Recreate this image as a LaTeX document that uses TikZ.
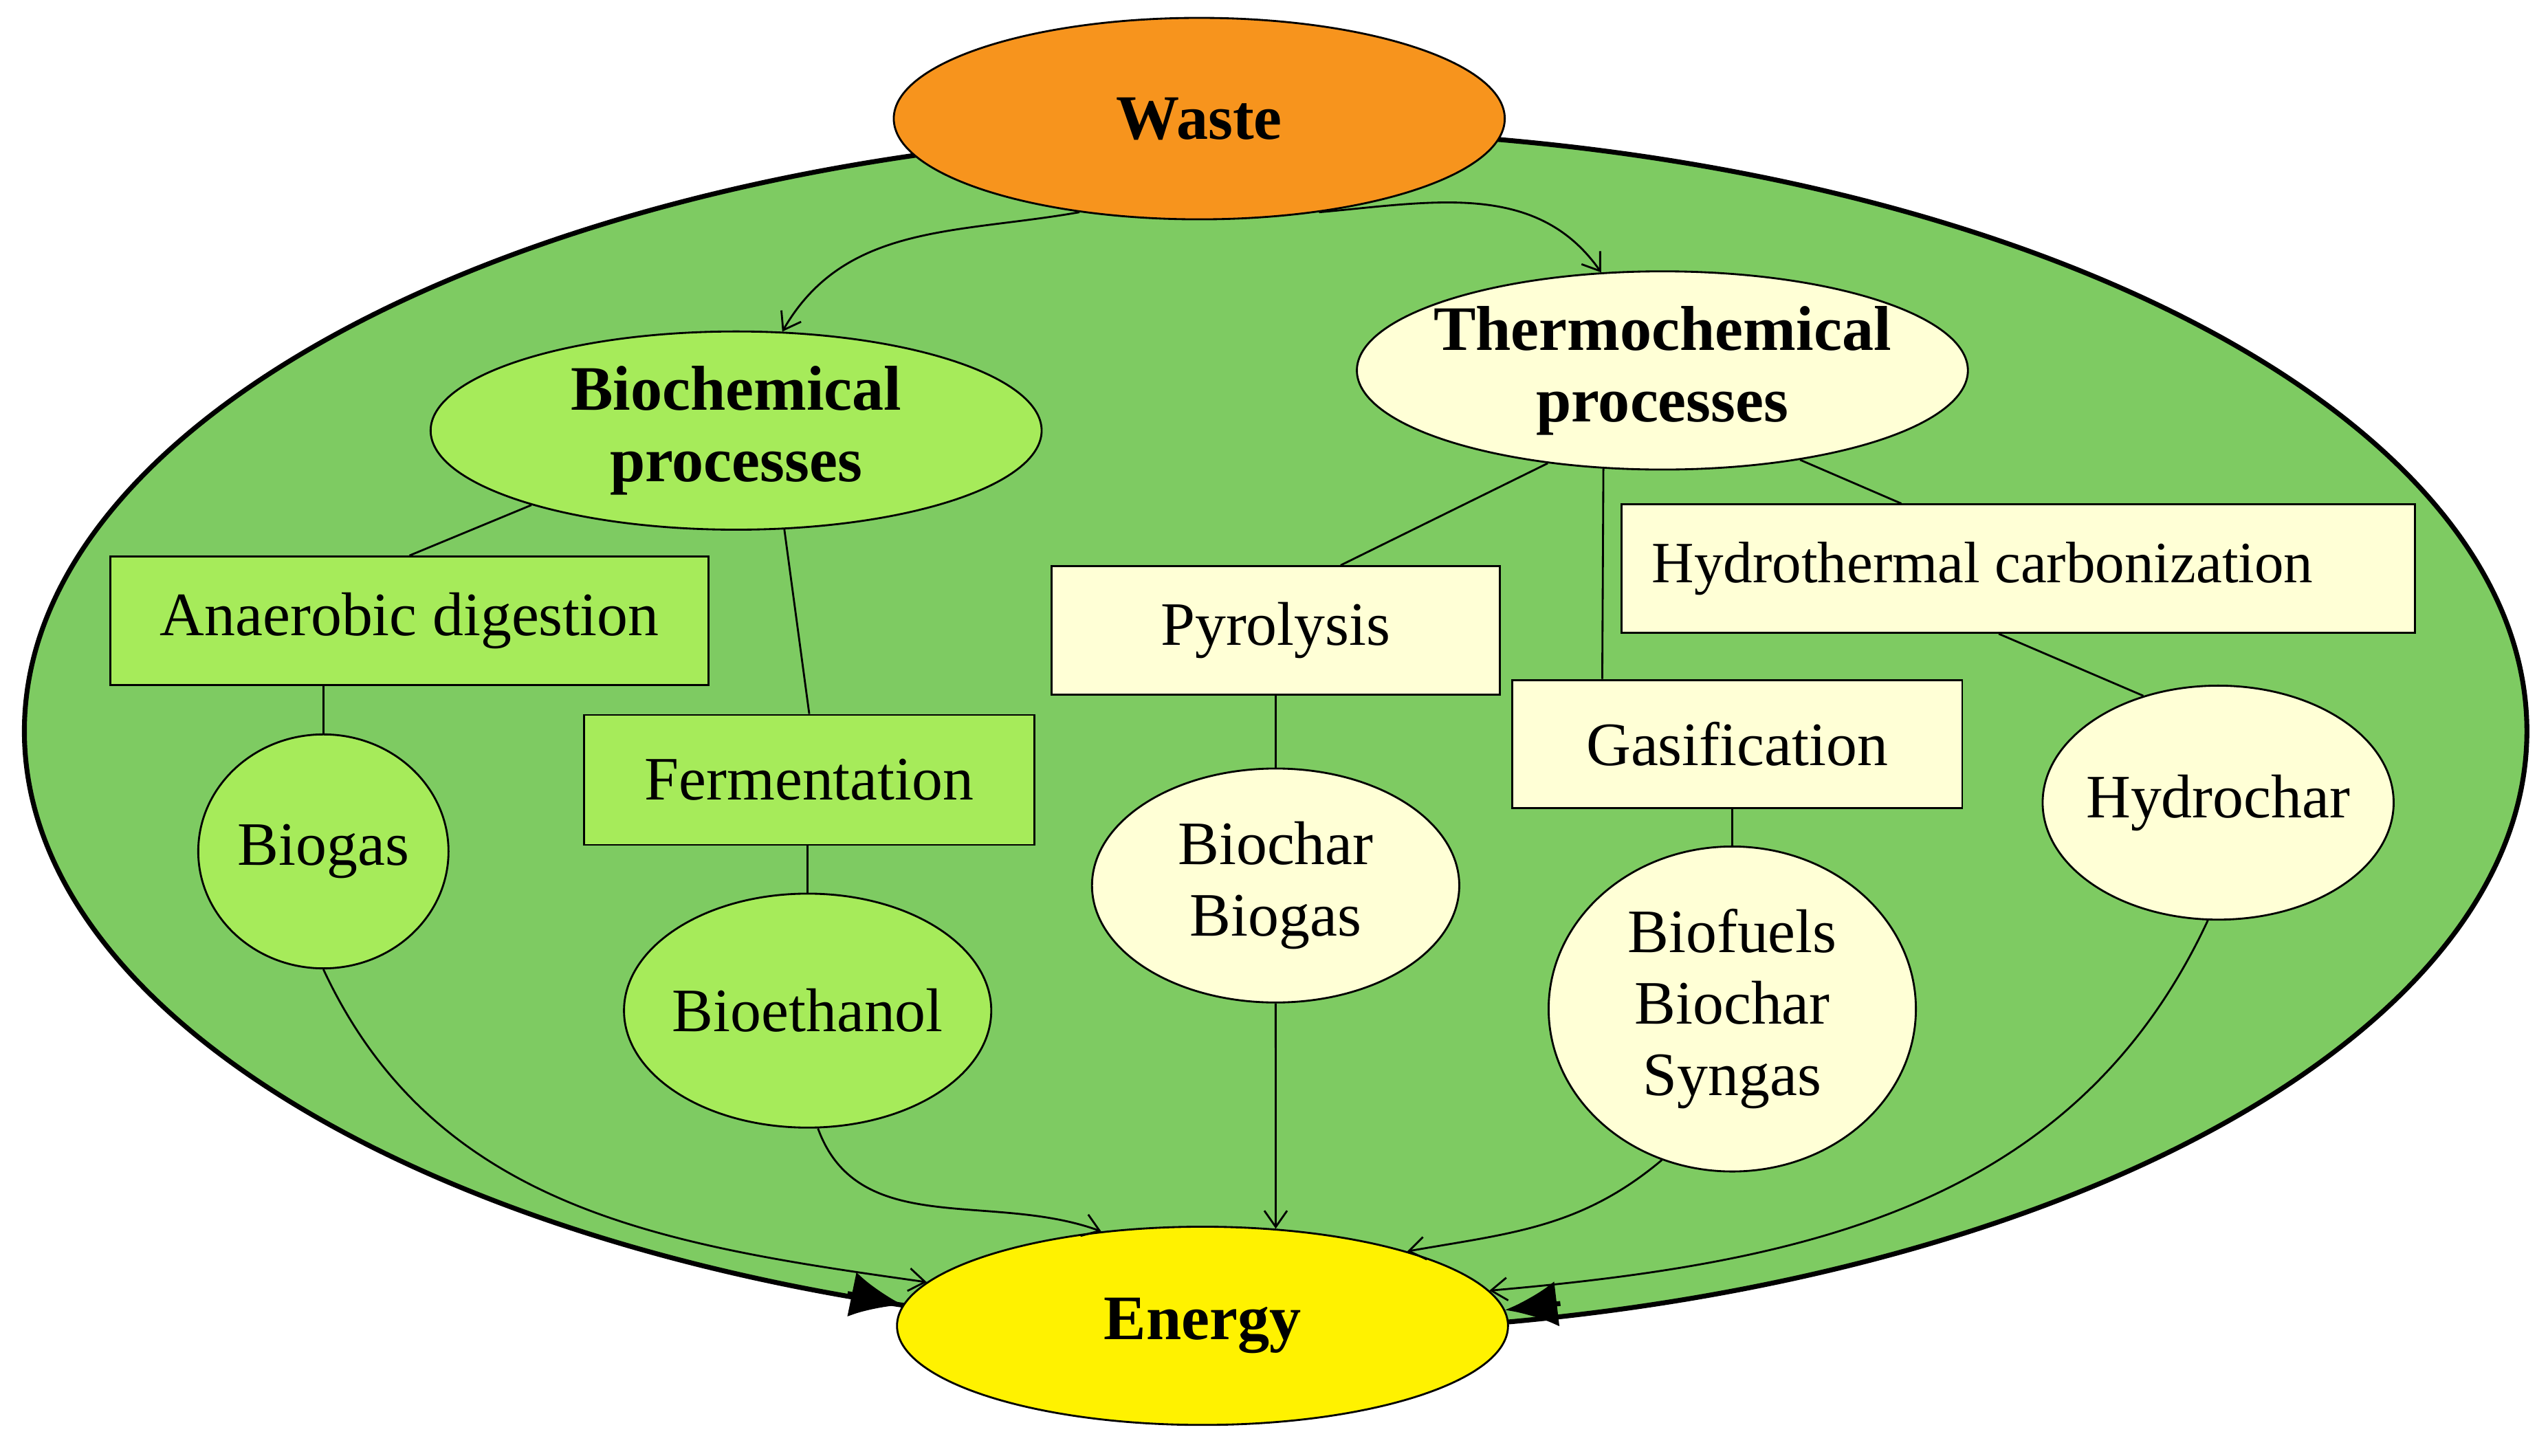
\documentclass[tikz,border=0pt]{standalone}
\usepackage{fontspec}
\setmainfont{Liberation Serif}
\usetikzlibrary{shapes.geometric,arrows.meta}
\definecolor{biggreen}{HTML}{7ECB62}
\definecolor{lgreen}{HTML}{A6EB5A}
\definecolor{cream}{HTML}{FFFFD6}
\definecolor{worange}{HTML}{F7941D}
\begin{document}
\begin{tikzpicture}[x=1pt,y=1pt,
  every node/.style={font=\fontsize{38}{44}\selectfont, align=center, inner sep=0pt},
  ell/.style={ellipse, draw=black, line width=1.2pt, inner xsep=-40pt},
  box/.style={rectangle, draw=black, line width=1.2pt},
  ln/.style={line width=1.2pt},
  arr/.style={line width=1.2pt,-{Straight Barb[length=10pt,width=14pt]}},
  bigarr/.style={line width=3pt,-{Latex[length=32pt,width=28pt]}},
  bf/.style={font=\fontsize{39}{44}\selectfont\bfseries}]
\useasboundingbox (0,0) rectangle (1568,-896);
\node[ell, line width=3pt, fill=biggreen, minimum width=1540, minimum height=740] (big) at (785,-450) {};
\node[ell, fill=worange, minimum width=376, minimum height=124, bf] (waste) at (738,-73) {Waste};
\node[ell, fill=yellow, minimum width=376, minimum height=122, bf] (en) at (740,-816) {Energy};
\node[ell, fill=lgreen, minimum width=376, minimum height=122, bf] (bio) at (453,-265) {Biochemical\\processes};
\node[ell, fill=cream, minimum width=376, minimum height=122, bf] (th) at (1023,-228) {Thermochemical\\processes};
\node[box, fill=lgreen, minimum width=368, minimum height=79] (ad) at (252,-382) {Anaerobic digestion};
\node[box, fill=lgreen, minimum width=277, minimum height=80] (fe) at (498,-480) {Fermentation};
\node[ell, fill=lgreen, minimum width=154, minimum height=144] (bg) at (199,-524) {Biogas};
\node[ell, fill=lgreen, minimum width=226, minimum height=144] (be) at (497,-622) {Bioethanol};
\node[box, fill=cream, minimum width=276, minimum height=79] (py) at (785,-388) {Pyrolysis};
\node[box, fill=cream, minimum width=488, minimum height=79] (hc) at (1242,-350) {};
\node[anchor=west, font=\fontsize{36}{44}\selectfont] (hct) at ([xshift=19]hc.west) {Hydrothermal carbonization};
\node[box, fill=cream, minimum width=277, minimum height=79] (ga) at (1069,-458) {Gasification};
\node[ell, fill=cream, minimum width=226, minimum height=144] (bb) at (785,-545) {Biochar\\Biogas};
\node[ell, fill=cream, minimum width=226, minimum height=200] (bf3) at (1066,-621) {Biofuels\\Biochar\\Syngas};
\node[ell, fill=cream, minimum width=216, minimum height=144] (hy) at (1365,-494) {Hydrochar};

\draw[ln] (bio.200) -- (ad.north);
\draw[ln] (bio.296) -- (fe.north);
\draw[ln] (bg.north |- ad.south) -- (bg.north);
\draw[ln] (be.north |- fe.south) -- (be.north);
\draw[ln] (th.219) -- ([xshift=40]py.north);
\draw[ln] (th.239) -- ([xshift=-83]ga.north);
\draw[ln] (th.327) -- ([xshift=-72]hc.north);
\draw[ln] (py.south) -- (bb.north);
\draw[ln] ([xshift=-12]hc.south) -- (hy.125);
\draw[ln] (bf3.north |- ga.south) -- (bf3.north);

\draw[arr] (waste.218) to[out=190,in=60] (bio.65);
\draw[arr] (waste.322) to[out=5,in=125] (th.122);
\draw[arr] (bg.270) to[out=-65,in=172] (en.171);
\draw[arr] (be.275) to[out=-70,in=160] (en.137);
\draw[arr] (bb.270) -- (en.53);
\draw[arr] (bf3.245) to[out=-140,in=10] (en.20);
\draw[arr] (hy.265) to[out=-115,in=5] (en.7);
\draw[bigarr] ([xshift=-34,yshift=7]en.176) -- (en.176);
\draw[bigarr] ([xshift=34,yshift=4]en.3) -- (en.3);
\end{tikzpicture}
\end{document}
